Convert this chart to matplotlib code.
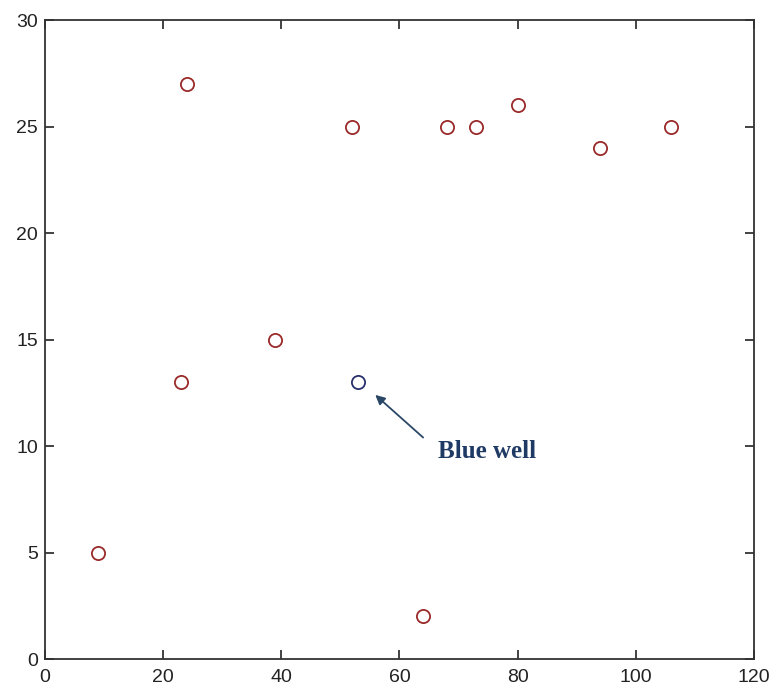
import matplotlib
matplotlib.use("Agg")
import matplotlib.pyplot as plt

# Well locations
red_x = [9, 23, 24, 39, 52, 64, 68, 73, 80, 94, 106]
red_y = [5, 13, 27, 15, 25, 2, 25, 25, 26, 24, 25]
blue_x = [53]
blue_y = [13]

x_ticks = [0, 20, 40, 60, 80, 100, 120]
y_ticks = [0, 5, 10, 15, 20, 25, 30]

fig = plt.figure(figsize=(7.73, 6.91), dpi=100)
ax = fig.add_axes([0.0582, 0.0463, 0.9172, 0.9247])

ax.plot(red_x, red_y, linestyle="none", marker="o", markersize=9.5,
        markerfacecolor="none", markeredgecolor="#9a2a2a", markeredgewidth=1.3)
ax.plot(blue_x, blue_y, linestyle="none", marker="o", markersize=9.5,
        markerfacecolor="none", markeredgecolor="#2a2f6e", markeredgewidth=1.3)

# Label pointing at the blue well
ax.annotate("", xy=(55.9, 12.4), xytext=(64.0, 10.4),
            arrowprops=dict(arrowstyle="-|>", color="#2b4766", lw=1.3,
                            mutation_scale=14, shrinkA=0, shrinkB=0))
ax.text(66.5, 9.45, "Blue well", fontsize=18, fontweight="bold",
        family="Liberation Serif", color="#1f3a64", va="baseline", ha="left")

ax.set_xlim(0, 120)
ax.set_ylim(0, 30)
ax.set_xticks(x_ticks)
ax.set_yticks(y_ticks)
ax.tick_params(direction="in", length=6.5, width=1.2, colors="#222222",
               labelsize=14, top=True, right=True)
ax.tick_params(axis="x", pad=7)
ax.tick_params(axis="y", pad=5)
for lab in ax.get_xticklabels() + ax.get_yticklabels():
    lab.set_family("Liberation Sans")
for s in ax.spines.values():
    s.set_color("#333333")
    s.set_linewidth(1.3)

fig.savefig("out.png", dpi=100)
